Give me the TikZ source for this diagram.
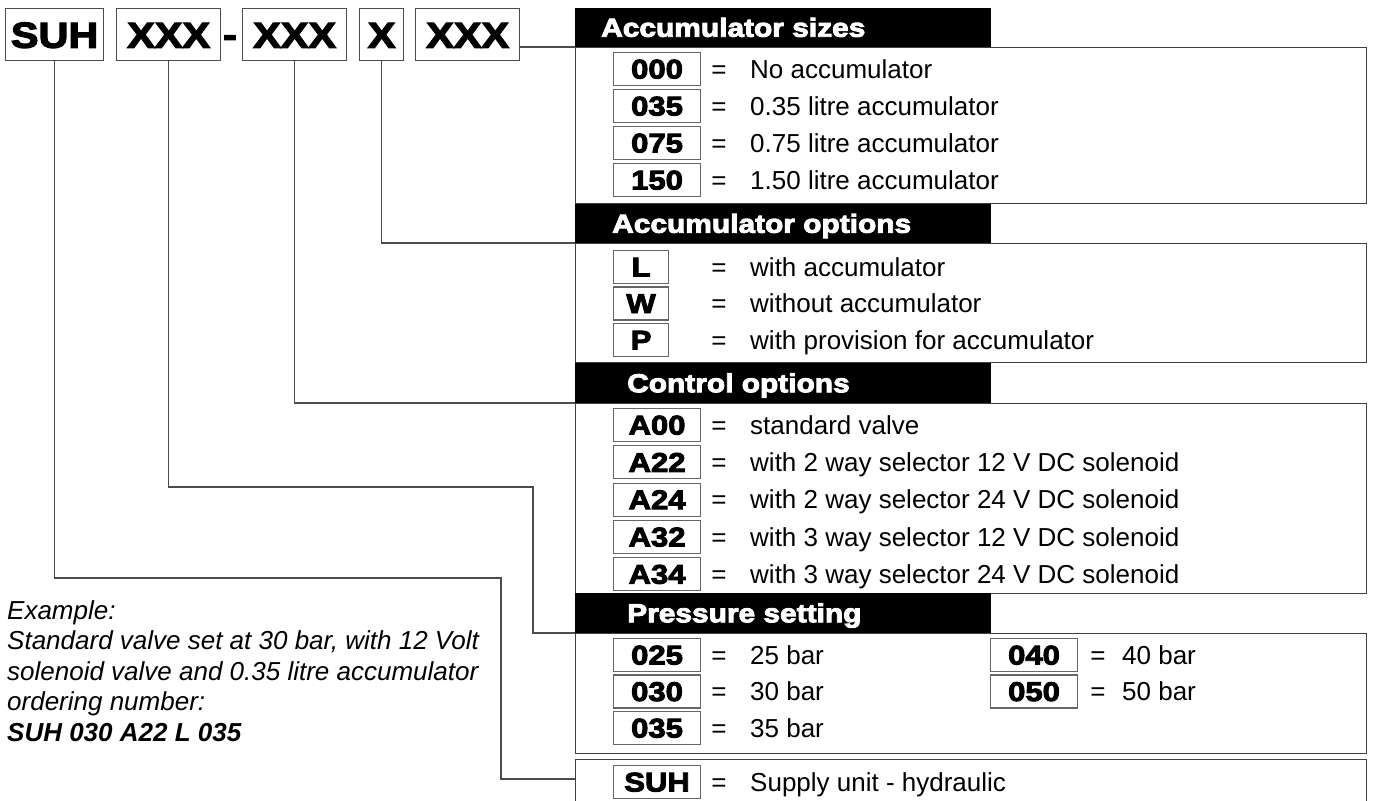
\documentclass[tikz,border=0pt]{standalone}
\usepackage{fontspec}
\setmainfont{Liberation Sans}
\newfontfamily\blk{Liberation Sans}[FakeBold=3.5,FakeStretch=1.15]
\begin{document}
\begin{tikzpicture}[x=1pt,y=-1pt,
  conn/.style={draw=black!70, line width=1.3pt},
  panel/.style={draw=black!75, line width=1.4pt, anchor=north west, inner sep=0pt, minimum width=791pt},
  hdr/.style={fill=black, anchor=north west, inner sep=0pt, minimum width=416pt, minimum height=40pt},
  hdrtext/.style={text=white, font=\blk\bfseries\fontsize{26}{30}\selectfont, anchor=west, inner sep=0pt, text height=18.5pt, text depth=0pt},
  code/.style={draw=black!60, line width=1.1pt, anchor=west, minimum width=87pt, minimum height=33pt, inner sep=0pt, font=\blk\bfseries\fontsize{27}{30}\selectfont, text height=19pt, text depth=0pt},
  ncode/.style={code, minimum width=55pt},
  eq/.style={font=\fontsize{26}{30}\selectfont, inner sep=0pt, anchor=base},
  desc/.style={font=\fontsize{26}{30}\selectfont, anchor=west, inner sep=0pt, text height=18.5pt, text depth=0pt},
  topbox/.style={draw=black!70, line width=1.3pt, anchor=north west, minimum height=52pt, inner sep=0pt, font=\blk\bfseries\fontsize{36}{40}\selectfont, text height=26pt, text depth=0pt},
  example/.style={font=\itshape\fontsize{26}{30}\selectfont, anchor=base west, inner sep=0pt},
]
\useasboundingbox (0,0) rectangle (1375,800);
\clip (0,0) rectangle (1375,800);

% panels
\node[panel, minimum height=156pt] (p1) at (575,47) {};
\node[panel, minimum height=119pt] (p2) at (575,243) {};
\node[panel, minimum height=190pt] (p3) at (575,403) {};
\node[panel, minimum height=120pt] (p4) at (575,633) {};
\node[panel, minimum height=70pt] (p5) at (575,759) {};

% headers
\node[hdr, minimum height=39pt] (h1) at (575,8) {};
\node[hdr, minimum height=39pt] (h2) at (575,204) {};
\node[hdr] (h3) at (575,363) {};
\node[hdr] (h4) at (575,593) {};
\node[hdrtext] (t1) at (601,27.5) {Accumulator sizes};
\node[hdrtext] (t2) at (612,223.5) {Accumulator options};
\node[hdrtext] (t3) at (627,383) {Control options};
\node[hdrtext] (t4) at (627,613) {Pressure setting};

% panel 1
\foreach \c/\d [count=\i] in {000/No accumulator, 035/0.35 litre accumulator, 075/0.75 litre accumulator, 150/1.50 litre accumulator}{
  \pgfmathsetmacro{\yy}{69+37*(\i-1)}
  \node[code] (a\i) at (613,\yy) {\c};
  \node[eq] (ae\i) at (719,\yy+9.25) {=};
  \node[desc] (ad\i) at (750,\yy) {\d};
}
% panel 2
\foreach \c/\d [count=\i] in {L/with accumulator, W/without accumulator, P/with provision for accumulator}{
  \pgfmathsetmacro{\yy}{267+36.5*(\i-1)}
  \node[ncode] (b\i) at (613,\yy) {\c};
  \node[eq] (be\i) at (719,\yy+9.25) {=};
  \node[desc] (bd\i) at (750,\yy) {\d};
}
% panel 3
\foreach \c/\d [count=\i] in {A00/standard valve, A22/with 2 way selector 12 V DC solenoid, A24/with 2 way selector 24 V DC solenoid, A32/with 3 way selector 12 V DC solenoid, A34/with 3 way selector 24 V DC solenoid}{
  \pgfmathsetmacro{\yy}{425+37.3*(\i-1)}
  \node[code] (c\i) at (613,\yy) {\c};
  \node[eq] (ce\i) at (719,\yy+9.25) {=};
  \node[desc] (cd\i) at (750,\yy) {\d};
}
% panel 4
\foreach \c/\d [count=\i] in {025/25 bar, 030/30 bar, 035/35 bar}{
  \pgfmathsetmacro{\yy}{655+36.5*(\i-1)}
  \node[code] (d\i) at (613,\yy) {\c};
  \node[eq] (de\i) at (719,\yy+9.25) {=};
  \node[desc] (dd\i) at (750,\yy) {\d};
}
\foreach \c/\d [count=\i] in {040/40 bar, 050/50 bar}{
  \pgfmathsetmacro{\yy}{655+36.5*(\i-1)}
  \node[code] (r\i) at (990,\yy) {\c};
  \node[eq] (re\i) at (1098,\yy+9.25) {=};
  \node[desc] (rd\i) at (1122,\yy) {\d};
}
% panel 5
\node[code] (e1) at (613,782) {SUH};
\node[eq] (ee1) at (719,791.25) {=};
\node[desc] (ed1) at (750,782) {Supply unit - hydraulic};

% top code
\node[topbox, minimum width=98pt] (s0) at (5,8) {SUH};
\node[topbox, minimum width=104pt] (s1) at (116,8) {XXX};
\node[inner sep=0pt, anchor=base, font=\blk\bfseries\fontsize{36}{40}\selectfont] (dash) at (230,47) {-};
\node[topbox, minimum width=104pt] (s2) at (242,8) {XXX};
\node[topbox, minimum width=44pt] (s3) at (359,8) {X};
\node[topbox, minimum width=104pt] (s4) at (415,8) {XXX};

% connectors
\coordinate (k1) at (533,487);
\coordinate (k2) at (501,578);
\draw[conn] (s4.east |- p1.north west) -- (p1.north west);
\draw[conn] (s3.south) |- (p2.north west);
\draw[conn] (s2.south) |- (p3.north west);
\draw[conn] (s1.south) |- (k1) |- (p4.north west);
\draw[conn] (s0.south) |- (k2) |- ([yshift=-20pt]p5.north west);

% example
\node[example] (x1) at (7,619) {Example:};
\node[example] (x2) at (7,649.5) {Standard valve set at 30 bar, with 12 Volt};
\node[example] (x3) at (7,680) {solenoid valve and 0.35 litre accumulator};
\node[example] (x4) at (7,710.5) {ordering number:};
\node[example, font=\bfseries\itshape\fontsize{26}{30}\selectfont] (x5) at (7,741) {SUH 030 A22 L 035};
\end{tikzpicture}
\end{document}
